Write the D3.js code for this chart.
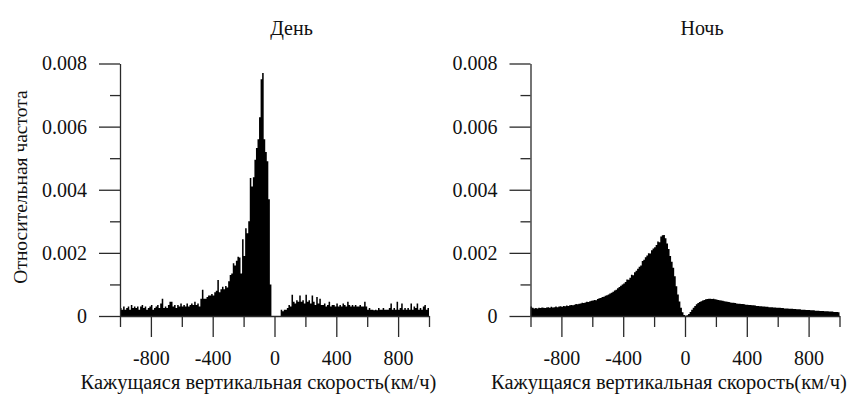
<!DOCTYPE html>
<html>
<head>
<meta charset="utf-8">
<script src="https://cdn.jsdelivr.net/npm/d3@7"></script>
<style>
  html, body { margin: 0; padding: 0; background: #fff; }
  svg { display: block; }
  .axis path, .axis line { stroke: #2a2a2a; stroke-width: 1.3; }
</style>
</head>
<body>
<svg id="chart" width="850" height="394"></svg>
<script>
const FONT = '"Liberation Serif", "Times New Roman", Times, serif';

// histogram bins: 10 km/h wide, first bin starts at -1000
const binStart = -1000;
const binWidth = 10;

// relative frequency, in units of 1e-4
const dayFreq = [
  2.5, 2, 3, 2, 2.5, 3, 2, 3.5, 2.5, 3,          // -1000..-910
  2.5, 3, 2, 3, 3.5, 2.5, 3, 2, 2.5, 3,          // -900..-810
  3.5, 2, 2.5, 3, 3.5, 2.5, 4, 5.5, 2.5, 3,      // -800..-710
  2.5, 3.5, 4.5, 4.5, 3, 3.5, 2.5, 3.5, 3, 4,    // -700..-610
  3, 3.5, 3, 4, 3, 3.5, 4, 3.5, 4.5, 3.5,        // -600..-510
  4, 3, 5.5, 8.3, 5.5, 5.5, 6, 6.5, 6.5, 7,      // -500..-410
  6.5, 7.5, 8, 11.4, 7.5, 8.5, 9.3, 8.5, 9.5, 9, // -400..-310
  11, 13, 13.5, 16.7, 16, 17.5, 18.8, 18.5, 13.5, 24.3, // -300..-210
  19, 27.8, 26.2, 30, 43.7, 41, 44, 49.5, 53.2, 56,     // -200..-110
  63, 75, 77, 56, 52, 49, 37, 10, 0, 0,          // -100..-10
  0, 0, 0, 0, 2, 1.5, 2, 2, 2.5, 3.5,            // 0..90
  3, 6.7, 4.5, 4, 5, 4.5, 6.5, 4.5, 5, 4,        // 100..190
  6.7, 4.5, 5, 4, 6.5, 4.5, 3.5, 6, 4, 5.5,      // 200..290
  3.5, 3.5, 4, 3, 3.5, 4.5, 3, 3.5, 3.5, 3,      // 300..390
  4, 3, 3.5, 3, 4, 3.5, 3, 4.5, 3.5, 3,          // 400..490
  3.5, 3, 3.5, 3, 3, 3.5, 3, 3, 4.5, 3,          // 500..590
  2, 2.5, 2, 2, 1.8, 2, 1.8, 2.5, 2, 2,          // 600..690
  2.5, 2, 2, 2, 2.5, 4, 2, 2.5, 2, 4.5,          // 700..790
  2, 2.5, 4, 2, 2.5, 2, 2.5, 2, 4, 2,            // 800..890
  3, 2.5, 4, 2, 2.5, 2, 3, 3.5, 2, 2.5           // 900..990
];

const nightFreq = [
  3.0, 2.6, 2.4, 2.5, 2.4, 2.6, 2.5, 2.7, 2.6, 2.5,       // -1000..-910
  2.7, 2.8, 2.6, 2.9, 2.7, 2.8, 3.0, 2.8, 3.0, 3.1,       // -900..-810
  2.9, 3.2, 3.1, 3.3, 3.2, 3.4, 3.5, 3.4, 3.6, 3.8,       // -800..-710
  3.7, 3.9, 4.0, 4.2, 4.1, 4.3, 4.5, 4.4, 4.7, 4.8,       // -700..-610
  4.9, 5.1, 5.0, 5.4, 5.6, 5.7, 6.0, 6.1, 6.4, 6.6,       // -600..-510
  6.8, 7.1, 7.4, 7.7, 8.1, 8.3, 8.8, 9.2, 9.6, 10.0,      // -500..-410
  10.3, 10.8, 11.6, 11.5, 12.1, 13.1, 12.9, 13.9, 14.3, 15.0, // -400..-310
  15.6, 16.0, 17.4, 17.8, 18.6, 19.2, 19.9, 19.8, 20.8, 21.4, // -300..-210
  21.8, 22.5, 23.6, 23.4, 25.2, 25.6, 25.7, 24.6, 23.0, 21.2, // -200..-110
  19.0, 17.2, 15.3, 12.6, 9.4, 6.8, 4.6, 2.6, 1.2, 0.3,   // -100..-10
  0.1, 0.2, 0.6, 1.3, 2.0, 2.6, 3.2, 3.7, 4.1, 4.4,       // 0..90
  4.7, 4.9, 5.1, 5.3, 5.4, 5.5, 5.5, 5.4, 5.5, 5.3,       // 100..190
  5.2, 5.1, 5.0, 4.9, 4.8, 4.7, 4.6, 4.5, 4.4, 4.3,       // 200..290
  4.2, 4.2, 4.1, 4.0, 3.9, 3.9, 3.8, 3.8, 3.7, 3.6,       // 300..390
  3.6, 3.5, 3.5, 3.4, 3.4, 3.3, 3.2, 3.2, 3.1, 3.1,       // 400..490
  3.0, 3.0, 2.9, 2.9, 2.8, 2.8, 2.8, 2.7, 2.7, 2.6,       // 500..590
  2.6, 2.6, 2.5, 2.5, 2.4, 2.4, 2.4, 2.3, 2.3, 2.3,       // 600..690
  2.2, 2.2, 2.1, 2.1, 2.1, 2.0, 2.0, 2.0, 1.9, 1.9,       // 700..790
  1.9, 1.8, 1.8, 1.8, 1.7, 1.7, 1.7, 1.6, 1.6, 1.6,       // 800..890
  1.5, 1.5, 1.5, 1.4, 1.4, 1.4, 1.3, 1.3, 1.3, 1.2        // 900..990
];

const xMajorTicks = [-800, -400, 0, 400, 800];
const xTickLabels = ["-800", "-400", "0", "400", "800"];
const xMinorTicks = [-1000, -600, -200, 200, 600, 1000];
const yMajorTicks = [0, 20, 40, 60, 80];
const yTickLabels = ["0", "0.002", "0.004", "0.006", "0.008"];
const yMinorTicks = [10, 30, 50, 70];

const panelTitles = ["День", "Ночь"];
const xTitle = "Кажущаяся вертикальная скорость(км/ч)";
const yTitle = "Относительная частота";

const svg = d3.select('#chart');

function drawPanel(values, title, left, showYTitle) {
  const x = d3.scaleLinear().domain([-1000, 1000]).range([left, left + 309]);
  const y = d3.scaleLinear().domain([0, 80]).range([316, 63.5]);
  const g = svg.append('g');

  // bins as one stepped outline so neighbouring bars don't leave hairline gaps
  const bins = values.map((v, i) => ({ x0: binStart + i * binWidth, value: v }));
  bins.push({ x0: binStart + values.length * binWidth, value: values[values.length - 1] });

  const area = d3.area()
    .curve(d3.curveStepAfter)
    .x(d => x(d.x0))
    .y0(y(0))
    .y1(d => y(d.value));

  g.append('path')
    .datum(bins)
    .attr('d', area)
    .attr('fill', '#000');

  // y axis: labelled ticks plus short minor ticks
  g.append('g')
    .attr('class', 'axis')
    .attr('transform', `translate(${left},0)`)
    .call(d3.axisLeft(y)
      .tickValues(yMajorTicks)
      .tickSize(21)
      .tickSizeOuter(0)
      .tickPadding(12)
      .tickFormat((d, i) => yTickLabels[i]));

  g.append('g')
    .attr('class', 'axis')
    .attr('transform', `translate(${left},0)`)
    .call(d3.axisLeft(y).tickValues(yMinorTicks).tickSize(10).tickFormat(''))
    .select('.domain').remove();

  // x axis
  const xAxis = g.append('g')
    .attr('class', 'axis')
    .attr('transform', 'translate(0,316)')
    .call(d3.axisBottom(x)
      .tickValues(xMajorTicks)
      .tickSize(21)
      .tickSizeOuter(0)
      .tickFormat((d, i) => xTickLabels[i]));
  xAxis.selectAll('text')
    .attr('y', 49)
    .attr('dy', null);

  g.append('g')
    .attr('class', 'axis')
    .attr('transform', 'translate(0,316)')
    .call(d3.axisBottom(x).tickValues(xMinorTicks).tickSize(11).tickFormat(''))
    .select('.domain').remove();

  g.selectAll('.axis')
    .attr('font-family', FONT)
    .attr('font-size', 20);
  g.selectAll('.axis text').attr('fill', '#111');

  const mid = (x.range()[0] + x.range()[1]) / 2;

  g.append('text')
    .attr('x', mid + 17)
    .attr('y', 35)
    .attr('text-anchor', 'middle')
    .attr('font-family', FONT)
    .attr('font-size', 20)
    .attr('fill', '#111')
    .text(title);

  g.append('text')
    .attr('x', mid - 16)
    .attr('y', 389)
    .attr('text-anchor', 'middle')
    .attr('font-family', FONT)
    .attr('font-size', 20.5)
    .attr('fill', '#111')
    .text(xTitle);

  if (showYTitle) {
    g.append('text')
      .attr('transform', `translate(27,${187}) rotate(-90)`)
      .attr('text-anchor', 'middle')
      .attr('font-family', FONT)
      .attr('font-size', 19.5)
      .attr('fill', '#111')
      .text(yTitle);
  }
}

drawPanel(dayFreq, panelTitles[0], 120, true);
drawPanel(nightFreq, panelTitles[1], 530.5, false);
</script>
</body>
</html>
